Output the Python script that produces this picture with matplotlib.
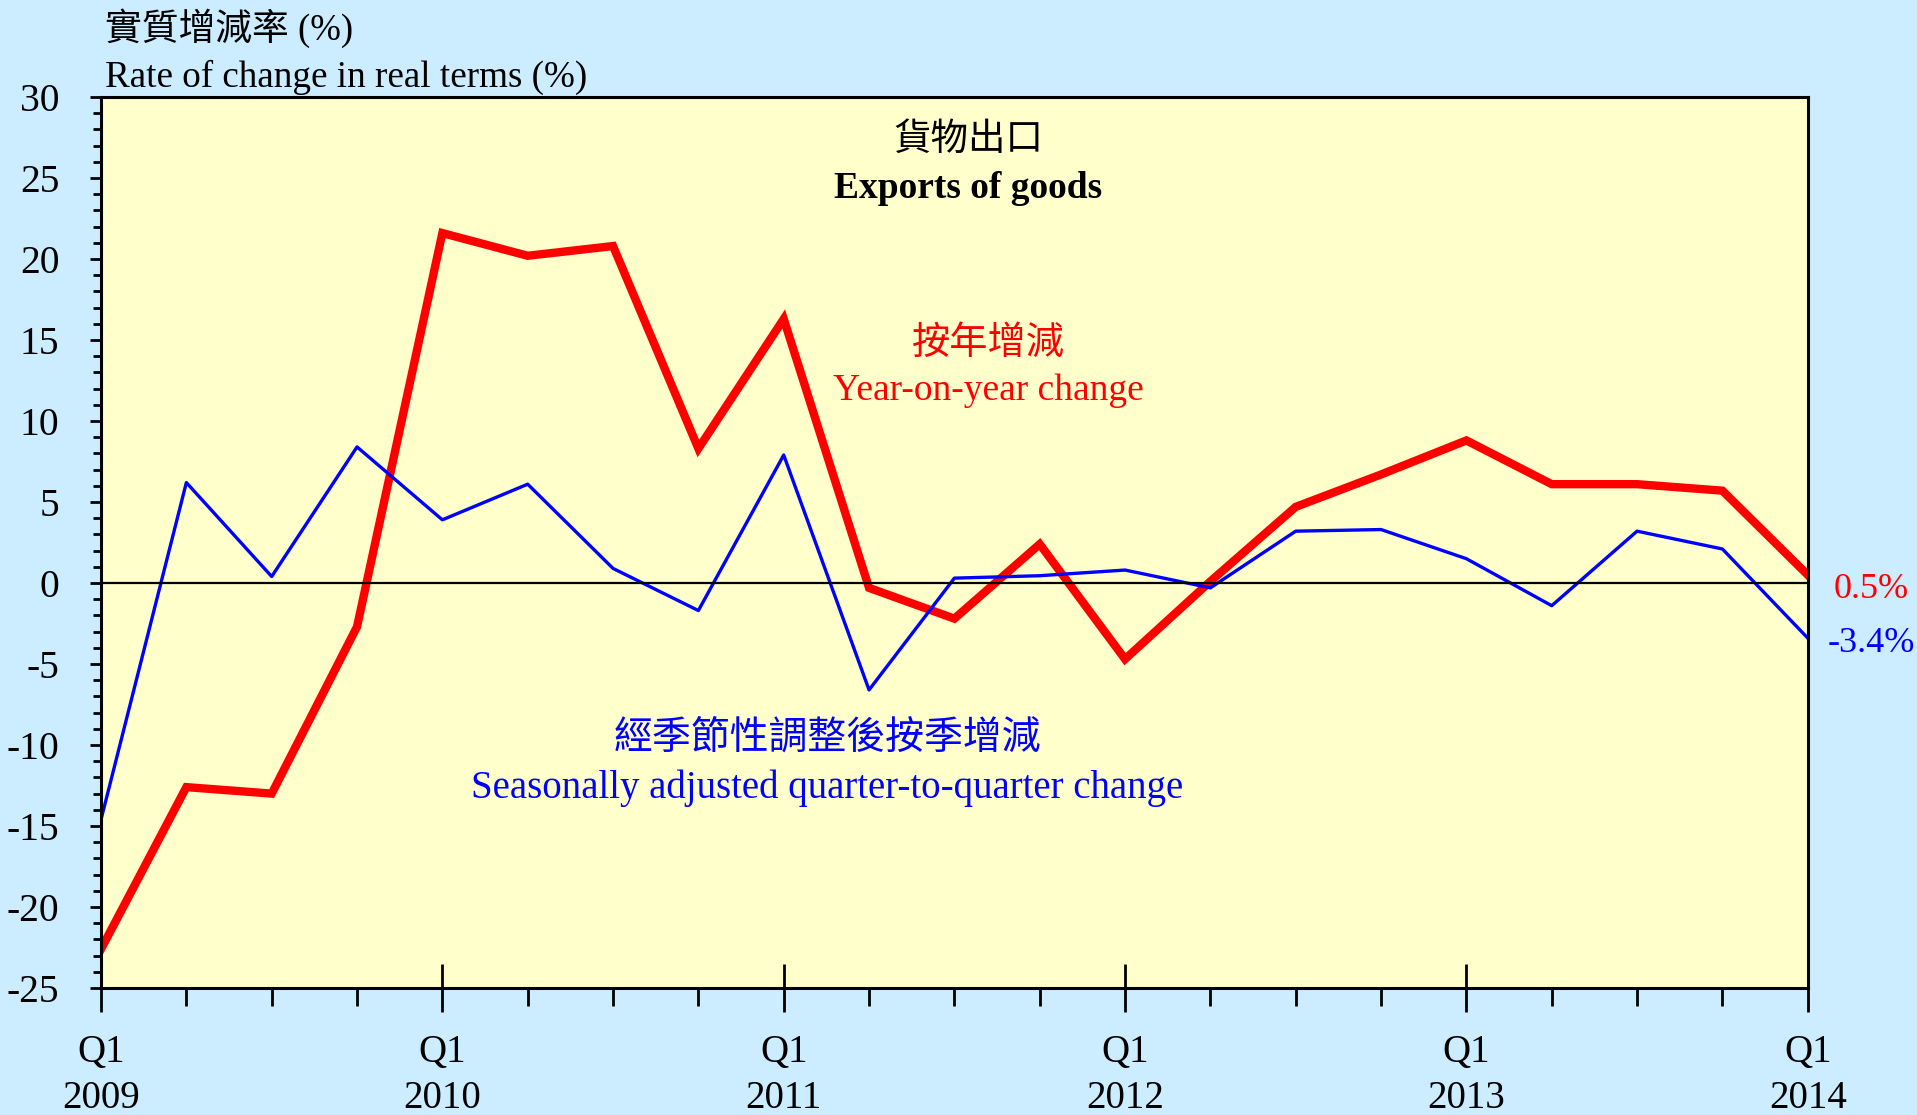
import matplotlib
matplotlib.use("Agg")
import matplotlib.pyplot as plt
from matplotlib.ticker import MultipleLocator, FixedLocator

plt.rcParams['font.family'] = ['Liberation Serif', 'Noto Sans CJK TC', 'DejaVu Sans']

quarters = ["Q1\n2009", "Q2", "Q3", "Q4",
            "Q1\n2010", "Q2", "Q3", "Q4",
            "Q1\n2011", "Q2", "Q3", "Q4",
            "Q1\n2012", "Q2", "Q3", "Q4",
            "Q1\n2013", "Q2", "Q3", "Q4",
            "Q1\n2014"]
yoy = [-22.6, -12.6, -13.0, -2.7,
       21.6, 20.2, 20.8, 8.3,
       16.3, -0.3, -2.2, 2.4,
       -4.7, 0.1, 4.7, 6.7,
       8.8, 6.1, 6.1, 5.7,
       0.5]
qoq = [-14.6, 6.2, 0.4, 8.4,
       3.9, 6.1, 0.9, -1.7,
       7.9, -6.6, 0.3, 0.45,
       0.8, -0.3, 3.2, 3.3,
       1.5, -1.4, 3.2, 2.1,
       -3.4]
yticks = [-25, -20, -15, -10, -5, 0, 5, 10, 15, 20, 25, 30]

bg = '#CCECFF'
plotbg = '#FFFFCC'

fig = plt.figure(figsize=(19.17, 11.15), dpi=100, facecolor=bg)
ax = fig.add_axes([0.0527, 0.1139, 0.8903, 0.7991])
ax.set_facecolor(plotbg)

x = list(range(len(quarters)))
ax.plot(x, yoy, color='#FF0000', lw=6.0, solid_joinstyle='miter', zorder=2)
ax.plot(x, qoq, color='#0000FF', lw=2.4, zorder=3)
ax.axhline(0, color='black', lw=1.6, zorder=4)

ax.set_xlim(0, len(quarters) - 1)
ax.set_ylim(-25, 30)

for s in ax.spines.values():
    s.set_linewidth(2.2)
    s.set_color('black')
    s.set_zorder(5)

# y ticks
ax.yaxis.set_major_locator(FixedLocator(yticks))
ax.yaxis.set_minor_locator(MultipleLocator(1))
ax.tick_params(axis='y', which='major', direction='out', length=8, width=2,
               labelsize=28.5, pad=22)
ax.tick_params(axis='y', which='minor', direction='out', length=6, width=2)
ax.set_yticklabels([str(v) for v in yticks])

# x ticks: Q1 major (in-out), others minor (out)
major_idx = [i for i, q in enumerate(quarters) if q.startswith("Q1")]
minor_idx = [i for i, q in enumerate(quarters) if not q.startswith("Q1")]
ax.xaxis.set_major_locator(FixedLocator(major_idx))
ax.xaxis.set_minor_locator(FixedLocator(minor_idx))
ax.set_xticklabels([quarters[i] for i in major_idx])
ax.tick_params(axis='x', which='major', direction='inout', length=34, width=2,
               labelsize=28, pad=16)
ax.tick_params(axis='x', which='minor', direction='out', length=13, width=2)
for lab in ax.get_xticklabels():
    lab.set_linespacing(1.33)

dy = 4  # vertical offset in px

def fy(py):
    return 1 - (py + dy) / 1115

# y-axis titles
fig.text(105 / 1917, fy(24), "實質增減率 (%)", fontsize=26.5,
         ha='left', va='center')
fig.text(105 / 1917, fy(73), "Rate of change in real terms (%)",
         fontsize=26.7, ha='left', va='center')

# chart title
fig.text(968 / 1917, fy(137), "貨物出口", fontsize=27,
         ha='center', va='center')
fig.text(968 / 1917, fy(185), "Exports of goods", fontsize=27,
         fontweight='bold', ha='center', va='center')

# series labels
fig.text(988 / 1917, fy(340), "按年增減", fontsize=27.5, color='#FF0000',
         ha='center', va='center')
fig.text(988 / 1917, fy(387), "Year-on-year change", fontsize=27,
         color='#FF0000', ha='center', va='center')
fig.text(827 / 1917, fy(735), "經季節性調整後按季增減", fontsize=28,
         color='#0000FF', ha='center', va='center')
fig.text(827 / 1917, fy(784),
         "Seasonally adjusted quarter-to-quarter change", fontsize=28,
         color='#0000FF', ha='center', va='center')

# end-value labels
fig.text(1871 / 1917, fy(586), f"{yoy[-1]:.1f}%", fontsize=26,
         color='#FF0000', ha='center', va='center')
fig.text(1871 / 1917, fy(640), f"{qoq[-1]:.1f}%", fontsize=26,
         color='#0000FF', ha='center', va='center')

fig.savefig("out.png", dpi=100, facecolor=bg)
